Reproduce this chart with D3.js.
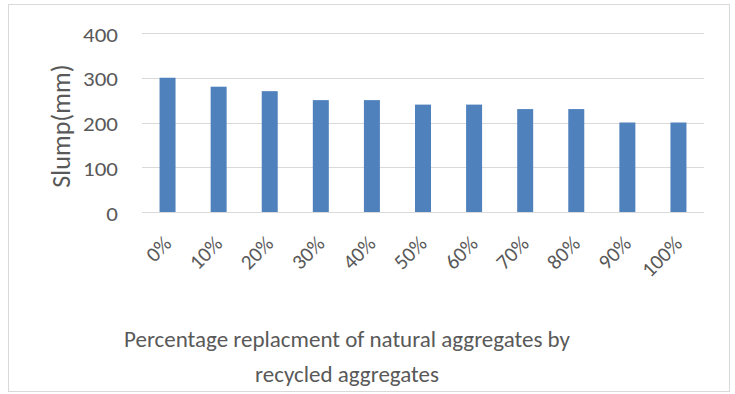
<!DOCTYPE html>
<html>
<head>
<meta charset="utf-8">
<script src="https://cdn.jsdelivr.net/npm/d3@7"></script>
<style>
  html, body { margin: 0; padding: 0; background: #fff; }
  svg { display: block; }
  text { font-family: Carlito, Lato, "Open Sans", sans-serif; fill: #595959; }
</style>
</head>
<body>
<svg id="chart" width="735" height="394"></svg>
<script>
// Slump values for each replacement level
const categories = ["0%", "10%", "20%", "30%", "40%", "50%", "60%", "70%", "80%", "90%", "100%"];
const slump = [300, 280, 270, 250, 250, 240, 240, 230, 230, 200, 200];
const yTicks = [0, 100, 200, 300, 400];
const yTitle = "Slump(mm)";
const xTitleLines = ["Percentage replacment of natural aggregates by", "recycled aggregates"];

const svg = d3.select("#chart");

// outer chart frame
svg.append("rect")
  .attr("x", 8.5).attr("y", 4.5)
  .attr("width", 721).attr("height", 387)
  .attr("fill", "#fff").attr("stroke", "#d9d9d9").attr("stroke-width", 1);

const plot = { left: 142, right: 704, top: 33, bottom: 212 };

const x = d3.scaleBand()
  .domain(categories)
  .range([plot.left, plot.right])
  .paddingInner(0.687)
  .paddingOuter(0.3435);

const y = d3.scaleLinear()
  .domain([0, 400])
  .range([plot.bottom, plot.top]);

// horizontal gridlines
svg.append("g")
  .selectAll("line")
  .data(yTicks)
  .join("line")
  .attr("x1", plot.left).attr("x2", plot.right)
  .attr("y1", d => Math.round(y(d)) + 0.5).attr("y2", d => Math.round(y(d)) + 0.5)
  .attr("stroke", "#d9d9d9").attr("stroke-width", 1.2);

// bars
svg.append("g")
  .selectAll("rect")
  .data(slump)
  .join("rect")
  .attr("x", (d, i) => x(categories[i]))
  .attr("width", x.bandwidth())
  .attr("y", d => y(d))
  .attr("height", d => y(0) - y(d))
  .attr("fill", "#4F81BD");

// y axis labels
const yAxis = d3.axisLeft(y).tickValues(yTicks).tickSize(0).tickPadding(0);
svg.append("g")
  .attr("transform", `translate(${plot.left - 24},0)`)
  .call(yAxis)
  .attr("font-size", null)
  .attr("font-family", null)
  .call(g => g.select(".domain").remove())
  .call(g => g.selectAll("text")
    .style("font-size", "20.5px")
    .attr("fill", "#595959")
    .attr("dy", "0.4em")
    .attr("transform", "scale(1.12,1)"));

// x axis labels, rotated
const xAxis = d3.axisBottom(x).tickSize(0).tickPadding(0);
svg.append("g")
  .attr("transform", `translate(0,${plot.bottom})`)
  .call(xAxis)
  .attr("font-size", null)
  .attr("font-family", null)
  .call(g => g.select(".domain").remove())
  .call(g => g.selectAll("text")
    .style("font-size", "21px")
    .attr("fill", "#595959")
    .attr("text-anchor", "end")
    .attr("dy", 0)
    .attr("y", 0)
    .attr("transform", "translate(5,33) rotate(-45)"));

// y axis title
svg.append("text")
  .attr("transform", "translate(70,126) rotate(-90)")
  .attr("text-anchor", "middle")
  .style("font-size", "26px")
  .text(yTitle);

// x axis title
svg.append("text")
  .attr("text-anchor", "middle")
  .style("font-size", "23px")
  .selectAll("tspan")
  .data(xTitleLines)
  .join("tspan")
  .attr("x", 347)
  .attr("y", (d, i) => 347 + i * 35)
  .text(d => d);
</script>
</body>
</html>
